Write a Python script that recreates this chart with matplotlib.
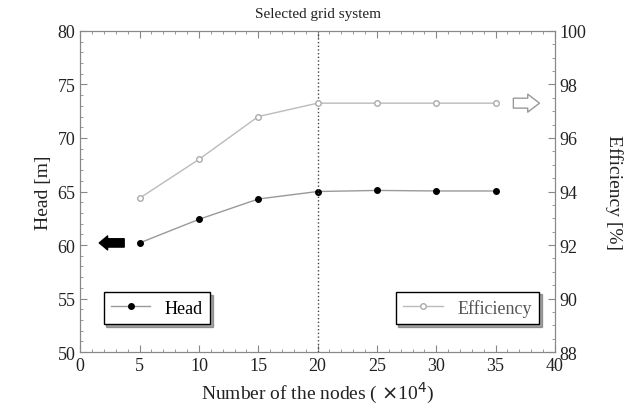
import matplotlib.pyplot as plt

plt.rcParams['font.family'] = ['Liberation Serif', 'DejaVu Serif']

nodes = [5, 10, 15, 20, 25, 30, 35]
head = [60.2, 62.4, 64.3, 65.0, 65.1, 65.05, 65.05]
efficiency = [93.75, 95.2, 96.8, 97.3, 97.3, 97.3, 97.3]
selected = 20

fig = plt.figure(figsize=(6.32, 4.14), dpi=100)
ax = fig.add_axes([0.127, 0.147, 0.751, 0.776])
ax2 = ax.twinx()

ax.plot(nodes, head, color='#999999', lw=1, marker='o', ms=4,
        mfc='black', mec='black', label='Head')
ax2.plot(nodes, efficiency, color='#bbbbbb', lw=1, marker='o', ms=4,
         mfc='white', mec='#aaaaaa', label='Efficiency')
ax.axvline(selected, color='#444444', lw=1, ls=':')

ax.set_xlim(0, 40)
ax.set_ylim(50, 80)
ax2.set_ylim(88, 100)
ax.set_xticks(range(0, 41, 5))
ax.set_xticks(range(0, 41), minor=True)
ax.set_yticks(range(50, 81, 5))
ax.set_yticks(range(50, 81), minor=True)
ax2.set_yticks(range(88, 101, 2))
ax2.set_yticks([88 + 0.5 * i for i in range(25)], minor=True)

for a in (ax, ax2):
    a.tick_params(which='both', direction='in', colors='#888888',
                  labelcolor='#222222', labelsize=13)
    a.tick_params(which='major', length=5)
    a.tick_params(which='minor', length=2.5)
    for s in a.spines.values():
        s.set_color('#888888')
ax.tick_params(top=True, which='both')

ax.set_xlabel(r'Number of the nodes ( $\times$10$^4$)', fontsize=14, color='#222222')
ax.set_ylabel('Head [m]', fontsize=14, color='#222222')
ax2.set_ylabel('Efficiency [%]', fontsize=14, color='#222222', rotation=-90, labelpad=26)
ax.set_title('Selected grid system', fontsize=11, color='#222222', x=0.5, pad=10)

# direction arrows
ax.annotate('', xy=(1.6, 60.2), xytext=(3.7, 60.2),
            arrowprops=dict(arrowstyle='simple,head_length=0.6,head_width=1.0,tail_width=0.6',
                            fc='black', ec='black', mutation_scale=10,
                            shrinkA=0, shrinkB=0))
ax2.annotate('', xy=(38.7, 97.3), xytext=(36.5, 97.3),
             arrowprops=dict(arrowstyle='simple,head_length=0.65,head_width=1.0,tail_width=0.55',
                             fc='white', ec='#999999', lw=1, mutation_scale=13,
                             shrinkA=0, shrinkB=0))

leg1 = ax.legend(loc='lower left', bbox_to_anchor=(0.03, 0.06), fontsize=13,
                 frameon=True, fancybox=False, shadow=True, handlelength=2.2,
                 borderpad=0.4)
leg1.get_frame().set_edgecolor('black')
leg2 = ax2.legend(loc='lower right', bbox_to_anchor=(0.985, 0.06), fontsize=13,
                  frameon=True, fancybox=False, shadow=True, handlelength=2.2,
                  borderpad=0.4)
leg2.get_frame().set_edgecolor('black')
for t in leg2.get_texts():
    t.set_color('#555555')

fig.savefig('out.png', dpi=100)
